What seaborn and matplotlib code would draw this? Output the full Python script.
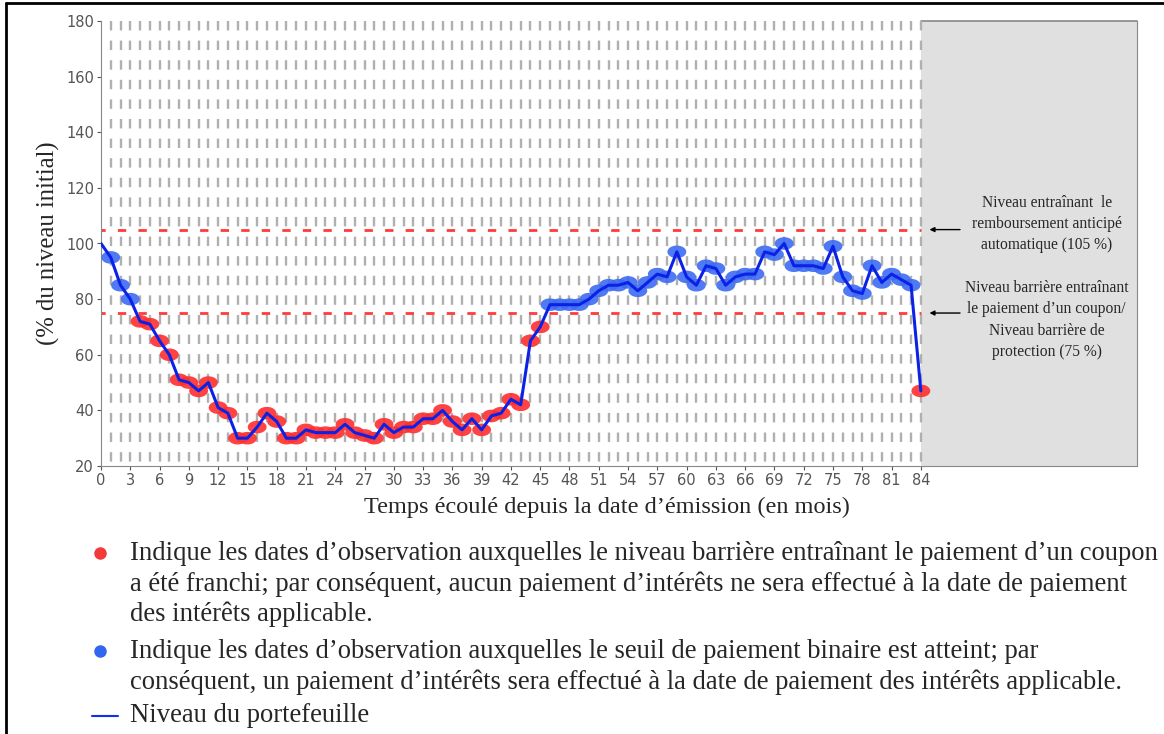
import numpy as np
import pandas as pd
import seaborn as sns
import matplotlib.pyplot as plt
from matplotlib.path import Path
from matplotlib.lines import Line2D

# données
mois = list(range(0, 85))
niveau = [100, 95, 85, 80, 72, 71, 65, 60, 51, 50, 47, 50, 41, 39, 30, 30, 34, 39, 36, 30,
          30, 33, 32, 32, 32, 35, 32, 31, 30, 35, 32, 34, 34, 37, 37, 40, 36, 33, 37, 33,
          38, 39, 44, 42, 65, 70, 78, 78, 78, 78, 80, 83, 85, 85, 86, 83, 86, 89, 88, 97,
          88, 85, 92, 91, 85, 88, 89, 89, 97, 96, 100, 92, 92, 92, 91, 99, 88, 83, 82, 92,
          86, 89, 87, 85, 47]
barriere_coupon = 75
seuil_rembourse = 105
xticks = list(range(0, 85, 3))
yticks = list(range(20, 181, 20))

df = pd.DataFrame({"mois": mois, "niveau": niveau})
obs = df[df.mois > 0].copy()
obs["etat"] = np.where(obs.niveau < barriere_coupon, "rouge", "bleu")

sns.set_style("white")
plt.rcParams["font.family"] = ["DejaVu Sans"]

fig = plt.figure(figsize=(11.64, 7.34), dpi=100)
ax = fig.add_axes([101/1164, 1 - 466/734, (1137-101)/1164, 445/734])
xmax = (1137 - 101) / 9.76

# zone grise après 84 mois
ax.axvspan(84, xmax, color="#e0e0e0", zorder=0, lw=0)
ax.plot([84, xmax], [180, 180], color="#888888", lw=1.2, zorder=1, clip_on=False)

# lignes verticales pointillées grises
for m in range(1, 85):
    ax.plot([m, m], [180, 20], color="#b0b0b0", lw=1.7,
            linestyle=(0, (4.0, 4.3)), zorder=1)

# niveaux barrières
for lvl in [seuil_rembourse, barriere_coupon]:
    ax.plot([0, 84], [lvl, lvl], color="#ff3b3b", lw=2.0,
            linestyle=(1.5, (3.0, 4.4)), zorder=2)

t = np.linspace(0, 2*np.pi, 40)
ellipse = Path(np.column_stack([1.5*np.cos(t), np.sin(t)]))

sns.scatterplot(data=obs, x="mois", y="niveau", hue="etat",
                palette={"rouge": "#ff2e2e", "bleu": "#3d6cf2"},
                marker=ellipse, s=185, linewidth=0, alpha=0.9,
                legend=False, ax=ax, zorder=3)
sns.lineplot(data=df, x="mois", y="niveau", color="#0b22e6", lw=2.2,
             ax=ax, zorder=4)

ax.set_xlim(0, xmax)
ax.set_ylim(20, 180)
ax.set_xticks(xticks)
ax.set_yticks(yticks)
ax.tick_params(axis="both", colors="#555555", labelsize=10.5, length=3,
               width=0.8, pad=2, direction="out", bottom=True, left=True)
for side in ["left", "bottom"]:
    ax.spines[side].set_color("#888888")
ax.spines["right"].set_color("#888888")
ax.spines["top"].set_visible(False)
ax.set_xlabel("")
ax.set_ylabel("")

serif = ["Liberation Serif", "DejaVu Serif"]
fig.text(48/1164, 1 - 243/734, "(% du niveau initial)", rotation=90,
         ha="center", va="center", fontsize=17.7, family=serif)
fig.text(607/1164, 1 - 507/734, "Temps écoulé depuis la date d\u2019émission (en mois)",
         ha="center", va="center", fontsize=17.5, family=serif)

# annotations dans la zone grise
ax.text(96.9, 106.9, "Niveau entraînant  le\nremboursement anticipé\nautomatique (105 %)",
        ha="center", va="center", fontsize=11.2, family=serif, linespacing=1.42)
ax.text(96.9, 72.5, "Niveau barrière entraînant\nle paiement d\u2019un coupon/\nNiveau barrière de\nprotection (75 %)",
        ha="center", va="center", fontsize=11.2, family=serif, linespacing=1.42)
for lvl in [seuil_rembourse, barriere_coupon]:
    ax.annotate("", xy=(84.6, lvl), xytext=(88.3, lvl),
                arrowprops=dict(arrowstyle="-|>", color="black", lw=1,
                                mutation_scale=7))

# légende en bas
def fy(py):
    return 1 - py/734

fig.add_artist(Line2D([100/1164], [fy(553)], marker="o", color="#f23a3a",
                      markersize=8, linestyle="none"))
fig.add_artist(Line2D([100/1164], [fy(651)], marker="o", color="#3366f0",
                      markersize=8, linestyle="none"))
fig.add_artist(Line2D([92/1164, 118/1164], [fy(716), fy(716)], color="#1030f0", lw=1.5))

lignes = [
    (553, "Indique les dates d\u2019observation auxquelles le niveau barrière entraînant le paiement d\u2019un coupon"),
    (584, "a été franchi; par conséquent, aucun paiement d\u2019intérêts ne sera effectué à la date de paiement"),
    (614, "des intérêts applicable."),
    (651, "Indique les dates d\u2019observation auxquelles le seuil de paiement binaire est atteint; par"),
    (682, "conséquent, un paiement d\u2019intérêts sera effectué à la date de paiement des intérêts applicable."),
    (716, "Niveau du portefeuille"),
]
for py, txt in lignes:
    fig.text(130/1164, fy(py), txt, ha="left", va="center", fontsize=19.2, family=serif)

# cadre noir
fig.add_artist(Line2D([6/1164, 6/1164], [0, fy(3)], color="black", lw=2))
fig.add_artist(Line2D([6/1164, 1], [fy(3), fy(3)], color="black", lw=2))

fig.savefig("out.png", dpi=100)
